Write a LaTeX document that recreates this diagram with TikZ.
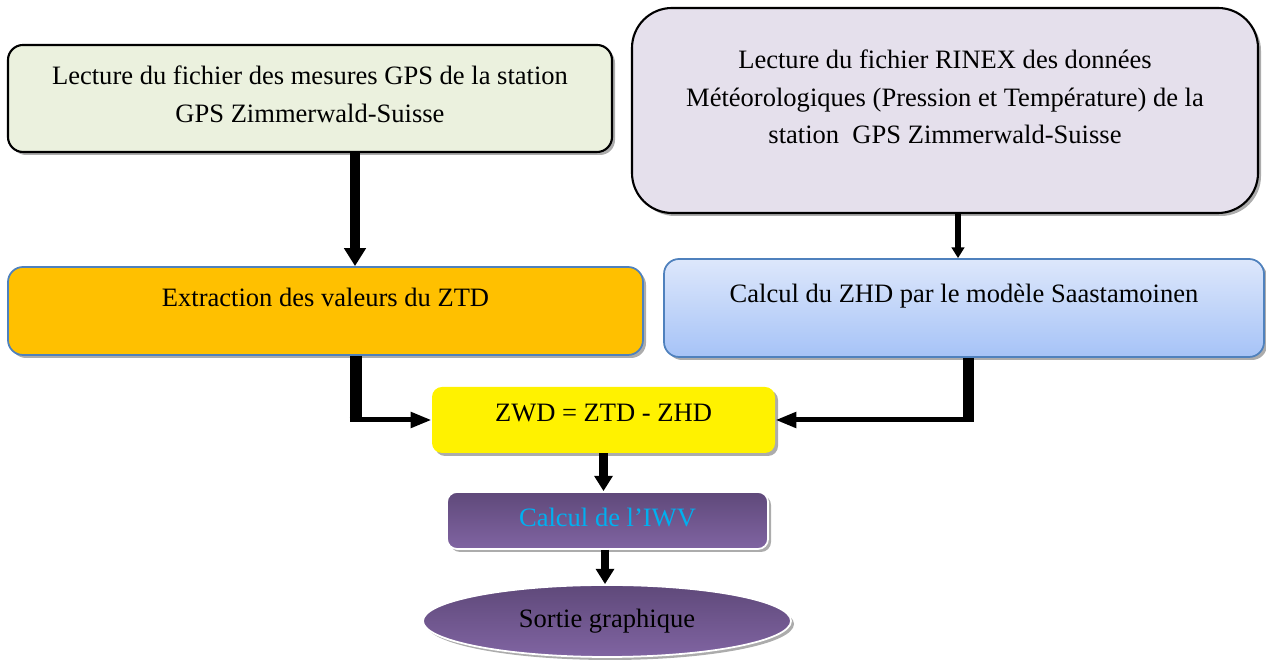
\documentclass[tikz,border=0pt]{standalone}
\usepackage{fontspec}
\setmainfont{Liberation Serif}
\usetikzlibrary{arrows.meta,shapes.geometric,shadows}
\definecolor{vertpale}{HTML}{EBF1DE}
\definecolor{lavande}{HTML}{E5E0EC}
\definecolor{orangeztd}{HTML}{FFC000}
\definecolor{bleuhaut}{HTML}{DDE7FB}
\definecolor{bleubas}{HTML}{A6C3F7}
\definecolor{bordbleu}{HTML}{4F81BD}
\definecolor{violethaut}{HTML}{5F497A}
\definecolor{violetbas}{HTML}{8064A2}
\definecolor{cyaniwv}{HTML}{00B0F0}
\begin{document}
\begin{tikzpicture}[
		boite/.style={rounded corners=0.3cm, align=center, inner sep=0pt,
			font=\fontsize{15.1pt}{21.3pt}\selectfont,
			drop shadow={shadow xshift=0.06cm, shadow yshift=-0.06cm, fill=gray!65, opacity=1}},
		fleche/.style={line width=#1, -{Triangle[width=2.1*#1, length=1.8*#1]}},
		tige/.style={line width=#1},
		fine/.style={line width=0.1cm, -{Triangle[width=0.3cm, length=0.42cm]}}]
	\useasboundingbox (0, 0) rectangle (25.32, 13.32);
	
	\node[boite, draw, line width=1.2pt, fill=vertpale, minimum width=12.08cm, minimum height=2.14cm,
		text depth=0.18cm] (gps) at (6.2, 11.35)
		{Lecture du fichier des mesures GPS de la station\\GPS Zimmerwald-Suisse};
	\node[boite, draw, line width=1.2pt, rounded corners=0.8cm, fill=lavande, minimum width=12.52cm,
		minimum height=4.1cm, text depth=0.54cm] (rinex) at (18.9, 11.11)
		{Lecture du fichier RINEX des données\\Météorologiques (Pression et Température) de la\\station\ \ GPS Zimmerwald-Suisse};
	
	\node[boite, draw=bordbleu, line width=1pt, fill=orangeztd, minimum width=12.7cm, minimum height=1.76cm,
		text height=0.38cm, text depth=0.54cm] (ztd) at (6.51, 7.1) {Extraction des valeurs du ZTD};
	\node[boite, draw=bordbleu, line width=1pt, top color=bleuhaut, bottom color=bleubas, minimum width=12.0cm,
		minimum height=1.96cm, text height=0.38cm, text depth=0.58cm] (zhd) at (19.28, 7.16)
		{Calcul du ZHD par le modèle Saastamoinen};
	
	\node[boite, rounded corners=0.2cm, fill=yellow, minimum width=6.86cm, minimum height=1.32cm,
		text height=0.38cm, text depth=0.3cm] (zwd) at (12.07, 4.92) {ZWD = ZTD - ZHD};
	\node[boite, rounded corners=0.2cm, draw=white, line width=1pt, top color=violethaut, bottom color=violetbas,
		text=cyaniwv, minimum width=6.42cm, minimum height=1.14cm, text height=0.38cm, text depth=0.12cm]
		(iwv) at (12.15, 2.91) {Calcul de l’IWV};
	\node[boite, ellipse, draw=white, line width=1pt, top color=violethaut, bottom color=violetbas,
		minimum width=7.36cm, minimum height=1.44cm] (sortie) at (12.14, 0.9) {Sortie graphique};
	
	\draw[fleche=0.2cm] ([xshift=0.9cm]gps.south) -- ([xshift=0.9cm]gps.south |- ztd.north);
	\draw[fleche=0.12cm] ([xshift=0.26cm]rinex.south) -- ([xshift=0.26cm]rinex.south |- zhd.north);
	
	\coordinate (coudeG) at ([xshift=0.6cm]ztd.south |- zwd.west);
	\coordinate (coudeD) at ([xshift=0.08cm]zhd.south |- zwd.east);
	\draw[tige=0.24cm] ([xshift=0.6cm]ztd.south) -- ([yshift=-0.05cm]coudeG);
	\draw[fine] ([xshift=-0.12cm]coudeG) -- (zwd.west);
	\draw[tige=0.22cm] ([xshift=0.08cm]zhd.south) -- ([yshift=-0.05cm]coudeD);
	\draw[fine] ([xshift=0.11cm]coudeD) -- (zwd.east);
	
	\draw[fleche=0.17cm] (zwd.south) -- (zwd.south |- iwv.north);
	\draw[fleche=0.17cm] ([xshift=-0.05cm]iwv.south) -- ([xshift=-0.05cm]iwv.south |- sortie.north);
\end{tikzpicture}
\end{document}
